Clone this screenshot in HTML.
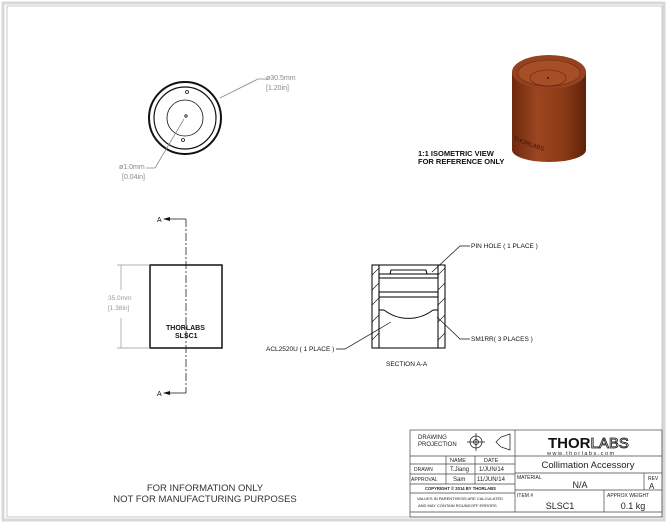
<!DOCTYPE html>
<html><head><style>
body{margin:0;background:#fff}
svg{display:block;font-family:"Liberation Sans",sans-serif}
</style></head><body>
<svg width="667" height="524" viewBox="0 0 667 524" xmlns="http://www.w3.org/2000/svg">
<rect x="0" y="0" width="667" height="524" fill="#fff"/>
<rect x="3" y="3" width="661" height="517" fill="none" stroke="#d8d8dc" stroke-width="3"/>
<rect x="7" y="6" width="655" height="511" fill="#fff" stroke="#c8c8cc" stroke-width="1"/>

<!-- top view -->
<g fill="none" stroke="#111">
<circle cx="185" cy="118" r="36" stroke-width="2"/>
<circle cx="185" cy="118" r="31" stroke-width="1.2"/>
<circle cx="185" cy="118" r="18" stroke-width="0.8"/>
<circle cx="187" cy="92" r="1.5" stroke-width="0.8"/>
<circle cx="183" cy="140" r="1.5" stroke-width="0.8"/>
<circle cx="186" cy="116" r="1.2" stroke-width="0.8"/>
</g>
<g stroke="#888" fill="none" stroke-width="0.8">
<polyline points="268,79 258,79 220,98"/>
<polyline points="146,168 155,168 184,119"/>
</g>
<g font-size="7" fill="#888">
<text x="266" y="80">ø30.5mm</text><text x="266" y="90">[1.20in]</text>
<text x="119" y="169">ø1.0mm</text><text x="122" y="179">[0.04in]</text>
</g>

<!-- isometric -->
<defs><linearGradient id="g" x1="0" x2="1"><stop offset="0" stop-color="#6e2a0e"/><stop offset="0.35" stop-color="#9c4620"/><stop offset="0.7" stop-color="#8a3a16"/><stop offset="1" stop-color="#5e220a"/></linearGradient></defs>
<path d="M512 72 L512 150 A37 12 0 0 0 586 150 L586 72 Z" fill="url(#g)"/>
<ellipse cx="549" cy="72" rx="37" ry="17" fill="#944220"/>
<ellipse cx="549" cy="73" rx="31" ry="13" fill="#a64e26" stroke="#6e2a0e" stroke-width="0.6"/>
<ellipse cx="548" cy="78" rx="18" ry="8" fill="none" stroke="#5e220a" stroke-width="0.6"/>
<circle cx="548" cy="78" r="1" fill="#222"/>
<text x="513" y="140" font-size="6" fill="#3a1204" transform="rotate(20 513 140)">THORLABS</text>
<g font-size="7.5" font-weight="bold" fill="#111">
<text x="418" y="156">1:1 ISOMETRIC VIEW</text>
<text x="418" y="164">FOR REFERENCE ONLY</text>
</g>

<!-- side view -->
<rect x="150" y="265" width="72" height="83" fill="none" stroke="#111" stroke-width="1.5"/>
<line x1="186" y1="219" x2="186" y2="393" stroke="#222" stroke-width="0.8" stroke-dasharray="8,2,2,2"/>
<g stroke="#111" stroke-width="0.8" fill="none"><polyline points="164,219 186,219"/><polyline points="164,393 186,393"/></g>
<polygon points="163,219 170,217 170,221" fill="#111"/><polygon points="163,393 170,391 170,395" fill="#111"/>
<text x="157" y="222" font-size="7" fill="#111">A</text><text x="157" y="396" font-size="7" fill="#111">A</text>
<g stroke="#999" stroke-width="0.7"><line x1="117" y1="265" x2="150" y2="265"/><line x1="117" y1="348" x2="150" y2="348"/><line x1="121" y1="265" x2="121" y2="290"/><line x1="121" y1="318" x2="121" y2="348"/></g>
<g font-size="6.5" fill="#999"><text x="108" y="300">35.0mm</text><text x="108" y="310">[1.38in]</text></g>
<g font-size="7" font-weight="bold" fill="#111"><text x="166" y="330">THORLABS</text><text x="175" y="338">SLSC1</text></g>

<!-- section -->
<g stroke="#111" fill="none" stroke-width="1.1">
<rect x="372" y="265" width="73" height="83"/>
<line x1="379" y1="265" x2="379" y2="348"/><line x1="438" y1="265" x2="438" y2="348"/>
<rect x="379" y="274" width="59" height="4"/>
<polyline points="390,274 391,270 426,270 427,274"/>
<rect x="379" y="292" width="59" height="5"/>
<path d="M384 310 A40 40 0 0 0 433 310"/>
<line x1="379" y1="310" x2="384" y2="310"/><line x1="433" y1="310" x2="438" y2="310"/>
</g>
<g stroke="#111" stroke-width="0.6">
<line x1="372" y1="275" x2="379" y2="268"/><line x1="372" y1="290" x2="379" y2="283"/><line x1="372" y1="305" x2="379" y2="298"/><line x1="372" y1="322" x2="379" y2="315"/><line x1="372" y1="340" x2="379" y2="333"/>
<line x1="438" y1="275" x2="445" y2="268"/><line x1="438" y1="290" x2="445" y2="283"/><line x1="438" y1="305" x2="445" y2="298"/><line x1="438" y1="322" x2="445" y2="315"/><line x1="438" y1="340" x2="445" y2="333"/>
</g>
<g stroke="#111" stroke-width="0.7" fill="none">
<polyline points="470,246 460,246 432,272"/>
<polyline points="470,339 460,339 437,317"/>
<polyline points="336,349 345,349 391,322"/>
</g>
<g font-size="6.5" fill="#111">
<text x="471" y="248">PIN HOLE ( 1 PLACE )</text>
<text x="471" y="341">SM1RR( 3 PLACES )</text>
<text x="266" y="351">ACL2520U ( 1 PLACE )</text>
<text x="386" y="366">SECTION A-A</text>
</g>

<g font-size="9.5" fill="#333" text-anchor="middle">
<text x="205" y="491">FOR INFORMATION ONLY</text>
<text x="205" y="502">NOT FOR MANUFACTURING PURPOSES</text>
</g>

<!-- title block -->
<g stroke="#444" stroke-width="0.7" fill="none">
<rect x="410" y="430" width="252" height="87"/>
<line x1="515" y1="430" x2="515" y2="512"/>
<line x1="410" y1="456" x2="662" y2="456"/>
<line x1="410" y1="464" x2="515" y2="464"/>
<line x1="410" y1="474" x2="515" y2="474"/>
<line x1="410" y1="484" x2="515" y2="484"/>
<line x1="410" y1="493" x2="515" y2="493"/>
<line x1="446" y1="456" x2="446" y2="484"/>
<line x1="475" y1="456" x2="475" y2="484"/>
<line x1="515" y1="473" x2="662" y2="473"/>
<line x1="515" y1="490" x2="662" y2="490"/>
<line x1="410" y1="512" x2="662" y2="512"/>
<line x1="644" y1="473" x2="644" y2="490"/>
<line x1="604" y1="490" x2="604" y2="512"/>
<circle cx="476" cy="442" r="6" stroke="#111"/><circle cx="476" cy="442" r="2.5" stroke="#111"/>
<line x1="467" y1="442" x2="485" y2="442" stroke="#111"/><line x1="476" y1="433" x2="476" y2="451" stroke="#111"/>
<polygon points="496,442 501,437 510,434 510,450 501,447" stroke="#111"/>
</g>
<g fill="#222">
<text x="418" y="439" font-size="6">DRAWING</text><text x="418" y="446" font-size="6">PROJECTION</text>
<text x="450" y="462" font-size="5.5">NAME</text><text x="484" y="462" font-size="5.5">DATE</text>
<text x="414" y="471" font-size="5">DRAWN</text><text x="450" y="471" font-size="6">T.Jiang</text><text x="479" y="471" font-size="6">1/JUN/14</text>
<text x="411" y="481" font-size="5">APPROVAL</text><text x="453" y="481" font-size="6">Sam</text><text x="477" y="481" font-size="6">11/JUN/14</text>
<text x="425" y="490" font-size="4.2" font-weight="bold">COPYRIGHT © 2014 BY THORLABS</text>
<text x="417" y="500" font-size="4">VALUES IN PARENTHESIS ARE CALCULATED</text>
<text x="418" y="507" font-size="4">AND MAY CONTAIN ROUNDOFF ERRORS</text>
<text x="548" y="448" font-size="15" font-weight="bold" fill="#111">THOR<tspan font-weight="normal" fill="#fff" stroke="#111" stroke-width="0.8">LABS</tspan></text>
<text x="547" y="455" font-size="5.5" letter-spacing="1.5">www.thorlabs.com</text>
<text x="588" y="468" font-size="9.5" text-anchor="middle">Collimation Accessory</text>
<text x="517" y="479" font-size="5">MATERIAL</text>
<text x="580" y="488" font-size="9" text-anchor="middle">N/A</text>
<text x="648" y="480" font-size="5">REV</text><text x="649" y="489" font-size="8">A</text>
<text x="517" y="497" font-size="5">ITEM #</text>
<text x="560" y="509" font-size="9" text-anchor="middle">SLSC1</text>
<text x="607" y="497" font-size="5">APPROX WEIGHT</text>
<text x="633" y="509" font-size="9" text-anchor="middle">0.1 kg</text>
</g>
</svg>
</body></html>
